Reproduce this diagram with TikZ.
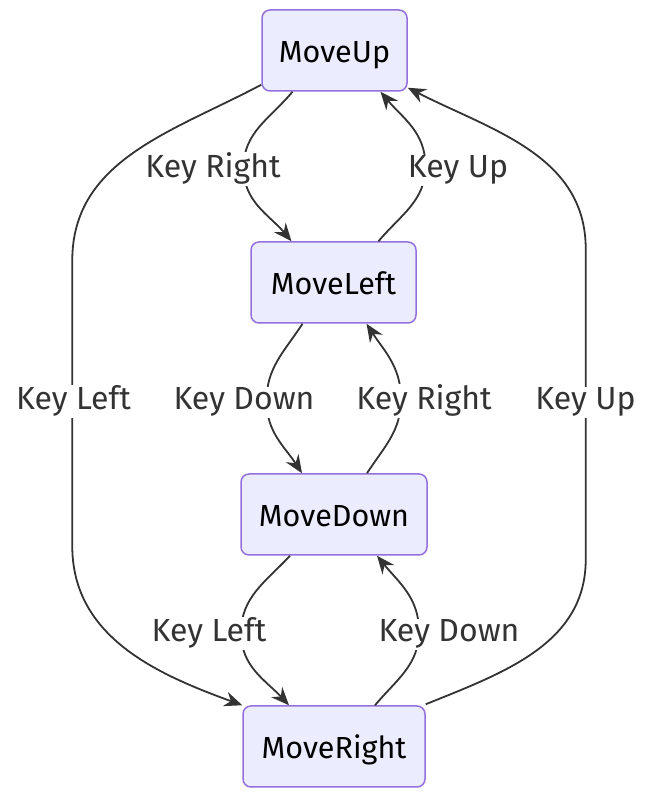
\documentclass[tikz,border=0pt]{standalone}
\usepackage{fontspec}
\setmainfont{Fira Sans}
\usetikzlibrary{arrows.meta}
\definecolor{statefill}{HTML}{ECECFF}
\definecolor{stateline}{HTML}{9370DB}
\definecolor{edgeline}{HTML}{333333}

\begin{document}
\begin{tikzpicture}[x=1pt,y=1pt,
  state/.style={draw=stateline,fill=statefill,line width=1.5pt,rounded corners=8pt,
    minimum height=81pt,inner sep=0pt,text height=25pt,text depth=0pt,text=black,
    font=\fontsize{30.5}{34}\selectfont},
  trans/.style={draw=edgeline,line width=1.8pt,-{Stealth[length=18pt,width=15pt,inset=6pt]}},
  lbl/.style={fill=white,inner sep=1pt,anchor=base,text=edgeline,font=\fontsize{32}{36}\selectfont}]
\useasboundingbox (0,0) rectangle (656,795);
\node [state,minimum width=145pt] (up) at (334.5,744.5) {MoveUp};
\node [state,minimum width=165pt] (left) at (333.5,512.5) {MoveLeft};
\node [state,minimum width=186pt] (down) at (334,280.5) {MoveDown};
\node [state,minimum width=182pt] (right) at (334,48.5) {MoveRight};
\draw [trans] ([xshift=-42pt]up.south) to[out=-130,in=90] ++(-49,-76) to[out=-90,in=130] ([xshift=-42pt]left.north);
\draw [trans] ([xshift=45pt]left.north) to[out=50,in=-90] ++(47,75) to[out=90,in=-50] ([xshift=46pt]up.south);
\draw [trans] ([xshift=-31pt]left.south) to[out=-123,in=90] ++(-36,-77) to[out=-90,in=123] ([xshift=-32pt]down.north);
\draw [trans] ([xshift=33pt]down.north) to[out=57,in=-90] ++(34,74) to[out=90,in=-57] ([xshift=33pt]left.south);
\draw [trans] ([xshift=-44pt]down.south) to[out=-133,in=90] ++(-49,-77) to[out=-90,in=133] ([xshift=-45pt]right.north);
\draw [trans] ([xshift=41pt]right.north) to[out=50,in=-90] ++(44,74) to[out=90,in=-51] ([xshift=43pt]down.south);
\draw [trans] ([yshift=7pt]up.south west) to[out=-152,in=90] ++(-189,-176) -- ++(0,-285) to[out=-90,in=160] (right.north west);
\draw [trans] ([yshift=1pt]right.north east) to[out=22,in=-90] ++(160,145) -- ++(0,310) to[out=90,in=-27] ([yshift=4pt]up.south east);
\node [lbl] (upleft) at (213,617) {Key Right};
\node [lbl] (leftup) at (458,617) {Key Up};
\node [lbl] (upright) at (73.5,385) {Key Left};
\node [lbl] (leftdown) at (244,385) {Key Down};
\node [lbl] (downleft) at (424,385) {Key Right};
\node [lbl] (rightup) at (585.5,385) {Key Up};
\node [lbl] (downright) at (209,153) {Key Left};
\node [lbl] (rightdown) at (449,153) {Key Down};
\end{tikzpicture}
\end{document}
